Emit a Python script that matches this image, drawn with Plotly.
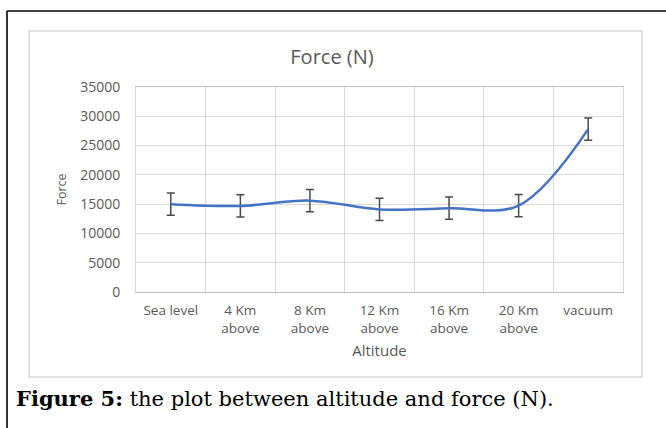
import plotly.graph_objects as go

# Altitude categories and measured force (N) with error half-widths
altitudes = ["Sea level", "4 Km<br>above", "8 Km<br>above", "12 Km<br>above",
             "16 Km<br>above", "20 Km<br>above", "vacuum"]
force = [15000, 14700, 15600, 14100, 14300, 14750, 27800]
force_err = [1900, 1900, 1900, 1900, 1900, 1900, 1900]
y_ticks = [0, 5000, 10000, 15000, 20000, 25000, 30000, 35000]
y_tick_text = ["0", "5000", "10000", "15000", "20000", "25000", "30000", "35000"]

W, H = 666, 428
L, R, T, B = 136, 43, 87, 136
PW, PH = W - L - R, H - T - B


def px(x):
    return (x - L) / PW


def py(y):
    return (H - B - y) / PH


GRAY_TXT = "#595959"
FONT = "Open Sans"

fig = go.Figure()
fig.add_trace(go.Scatter(
    x=altitudes, y=force,
    mode="lines",
    line=dict(color="#4472C4", width=2.5, shape="spline", smoothing=1),
    error_y=dict(type="data", array=force_err, visible=True,
                 color="#4a4a4a", thickness=1.5, width=4),
    showlegend=False,
))

fig.update_layout(
    width=W, height=H,
    margin=dict(l=L, r=R, t=T, b=B),
    paper_bgcolor="white", plot_bgcolor="white",
    font=dict(family=FONT, color=GRAY_TXT, size=13),
    title=dict(text="Force (N)", x=px(332), xref="paper", xanchor="center",
               y=1 - 57 / H, yanchor="middle",
               font=dict(family=FONT, size=20, color=GRAY_TXT)),
    xaxis=dict(
        type="category", tickson="boundaries", range=[-0.5, 6.5],
        showgrid=True, gridcolor="#D9D9D9", gridwidth=1,
        showline=True, linecolor="#BFBFBF", linewidth=1, mirror=True,
        ticks="", tickfont=dict(size=13.5, color=GRAY_TXT, family=FONT),
        ticklabelstandoff=6,
        title=dict(text="Altitude", standoff=9,
                   font=dict(size=15, color=GRAY_TXT, family=FONT)),
    ),
    yaxis=dict(
        range=[0, 35000], tickvals=y_ticks, ticktext=y_tick_text,
        showgrid=True, gridcolor="#D9D9D9", gridwidth=1,
        zeroline=False,
        showline=True, linecolor="#D9D9D9", linewidth=1, mirror=True,
        ticks="", tickfont=dict(size=14, color=GRAY_TXT, family=FONT),
        ticklabelstandoff=12,
        title=dict(text="Force", standoff=10,
                   font=dict(size=12.5, color=GRAY_TXT, family=FONT)),
    ),
)

# Outer black frame (top and left edges)
fig.add_shape(type="line", xref="paper", yref="paper",
              x0=px(7), x1=px(W + 5), y0=py(11), y1=py(11),
              line=dict(color="black", width=1.6))
fig.add_shape(type="line", xref="paper", yref="paper",
              x0=px(7), x1=px(7), y0=py(11), y1=py(H + 5),
              line=dict(color="black", width=1.6))

# Light chart-area box
fig.add_shape(type="rect", xref="paper", yref="paper",
              x0=px(29), x1=px(642), y0=py(31), y1=py(377),
              line=dict(color="#D9D9D9", width=1.5), layer="below")

# Figure caption
fig.add_annotation(
    text="<b>Figure 5:</b> the plot between altitude and force (N).",
    xref="paper", yref="paper", x=px(14), y=py(398),
    xanchor="left", yanchor="middle", showarrow=False,
    font=dict(family="DejaVu Serif", size=21, color="black"),
)

fig.write_html("out.html")
